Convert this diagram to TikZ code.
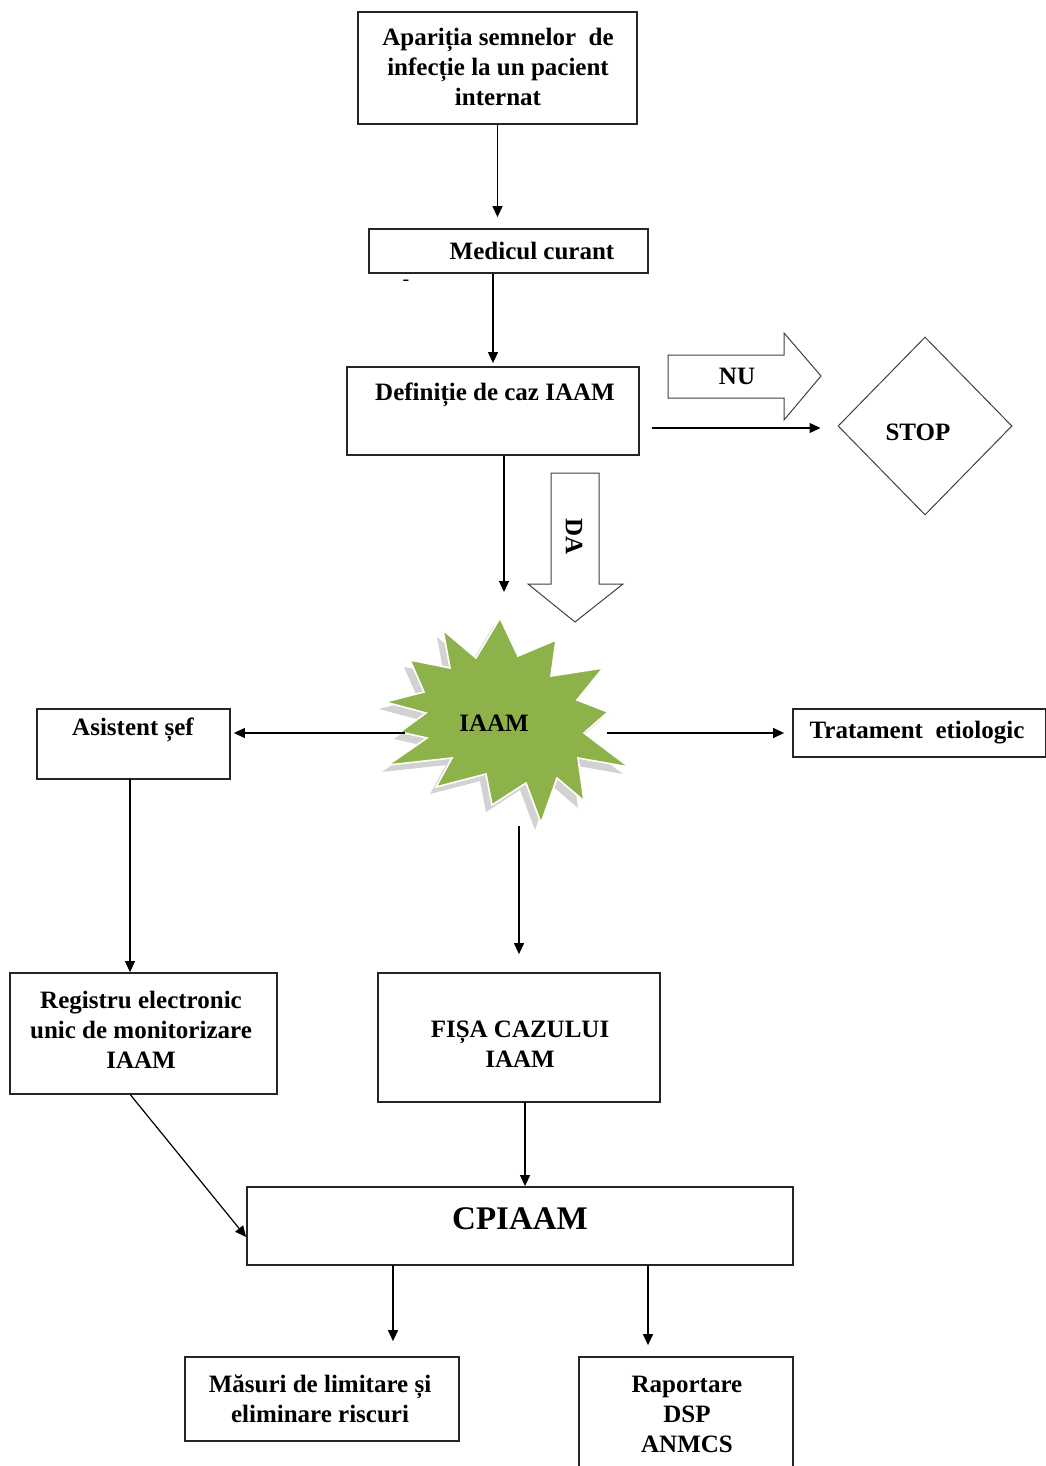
\documentclass[tikz,border=0pt]{standalone}
\usepackage{fontspec}
\setmainfont{Liberation Serif}
\usetikzlibrary{arrows.meta,calc,shapes.geometric}
\definecolor{stargreen}{RGB}{141,178,74}
\begin{document}
\begin{tikzpicture}[x=0.5pt,y=-0.5pt,
  box/.style={draw=black!85, line width=0.9pt, inner sep=0pt},
  txt/.style={font=\fontsize{12.5}{15}\selectfont\bfseries, align=center, inner sep=0pt},
  arr/.style={-{Triangle[length=5.5pt,width=5pt]}, line width=0.6pt},
  blk/.style={draw=black!75, line width=0.5pt, fill=white}]
\useasboundingbox (0,0) rectangle (1045,1466);

% boxes
\node[box, minimum width=139.5pt, minimum height=56pt] (top) at (497.5,68) {};
\node[box, minimum width=139.5pt, minimum height=22pt] (med) at (508.5,251) {};
\node[box, minimum width=146pt, minimum height=44pt] (def) at (493,411) {};
\node[draw=black!75, line width=0.5pt, diamond, minimum width=87pt, minimum height=89pt, inner sep=0pt] (stop) at (925,426) {};
\node[box, minimum width=96.5pt, minimum height=35pt] (asist) at (133.5,744) {};
\node[box, minimum width=126.5pt, minimum height=24pt] (trat) at (919.5,733) {};
\node[box, minimum width=133.5pt, minimum height=60.5pt] (reg) at (143.5,1033.5) {};
\node[box, minimum width=141pt, minimum height=64.5pt] (fisa) at (519,1037.5) {};
\node[box, minimum width=273pt, minimum height=39pt] (cp) at (520,1226) {};
\node[box, minimum width=137pt, minimum height=42pt] (mas) at (322,1399) {};
\node[box, minimum width=107pt, minimum height=66.5pt] (rap) at (686,1423.5) {};

% block arrows
\draw[blk] (668,355) -- (784,355) -- (784,333) -- (821,376) -- (784,420) -- (784,398) -- (668,398) -- cycle;
\draw[blk] (551,473) -- (599,473) -- (599,584) -- (623,584) -- (575,622) -- (528,584) -- (551,584) -- cycle;

% star
\def\starpath{(500,618) -- (518,656) -- (556,640) -- (551,676) -- (603,668) -- (577,700) -- (608,712) -- (584,733) -- (629,767) -- (578,758) -- (584,801) -- (557,778) -- (541,823) -- (526,783) -- (492,805) -- (486,774) -- (436,787) -- (452,758) -- (388,765) -- (427,738) -- (400,732) -- (426,713) -- (385,702) -- (424,692) -- (410,660) -- (450,668) -- (443,630) -- (476,658) -- cycle}
\begin{scope}[shift={(-6,7)}]
\fill[gray!35] \starpath;
\end{scope}
\filldraw[fill=stargreen, draw=white, line width=0.8pt] \starpath;

% texts
\node[txt] (toptxt) at (498,67) {Apariția semnelor\ \ de\\infecție la un pacient\\internat};
\node[txt] (medtxt) at (532,251) {Medicul curant};
\node[font=\fontsize{10}{12}\selectfont, inner sep=0pt] (dash) at (406,283) {-};
\node[txt] (deftxt) at (495,395) {Definiție de caz IAAM};
\node[txt] (nutxt) at (737,376) {NU};
\node[txt] (stoptxt) at (918,432) {STOP};
\node[txt, rotate=-90] (datxt) at (574,537) {DA};
\node[txt] (iaam) at (494,723) {IAAM};
\node[txt] (asisttxt) at (133,730) {Asistent șef};
\node[txt] (trattxt) at (917,733) {Tratament\ \ etiologic};
\node[txt] (regtxt) at (141,1030) {Registru electronic\\unic de monitorizare\\IAAM};
\node[txt] (fisatxt) at (520,1044) {FIȘA CAZULUI\\IAAM};
\node[txt, font=\fontsize{16.5}{19}\selectfont\bfseries] (cptxt) at (520,1219) {CPIAAM};
\node[txt] (mastxt) at (320,1399) {Măsuri de limitare și\\eliminare riscuri};
\node[txt] (raptxt) at (687,1414) {Raportare\\DSP\\ANMCS};

% connector points
\coordinate (starin) at (504,592);
\coordinate (starL) at (405,733);
\coordinate (starR) at (607,733);
\coordinate (starB) at (519,826);
\coordinate (a1) at (130,779);
\coordinate (f1) at (525,1102);
\coordinate (c1) at (393,1265);
\coordinate (c2) at (648,1265);

% connectors
\draw[arr, shorten >=5.5pt] (top.south) -- (top.south |- med.north);
\draw[arr, shorten >=1.5pt] (med.south -| def.north) -- (def.north);
\draw[arr] (def.south -| starin) -- (starin);
\draw[arr] ($(def.east)+(12,17)$) -- ($(stop.west)+(-17,2)$);
\draw[arr, shorten >=1.5pt] (starL) -- (starL -| asist.east);
\draw[arr, shorten >=4pt] (starR) -- (trat.west);
\draw[arr] (a1) -- (a1 |- reg.north);
\draw[arr, shorten >=9pt] (starB) -- (starB |- fisa.north);
\draw[arr] ($(reg.south)+(-13,0)$) -- ($(cp.west)+(0,11)$);
\draw[arr] (f1) -- (f1 |- cp.north);
\draw[arr, shorten >=7.5pt] (c1) -- (c1 |- mas.north);
\draw[arr, shorten >=5.5pt] (c2) -- (c2 |- rap.north);
\end{tikzpicture}
\end{document}
